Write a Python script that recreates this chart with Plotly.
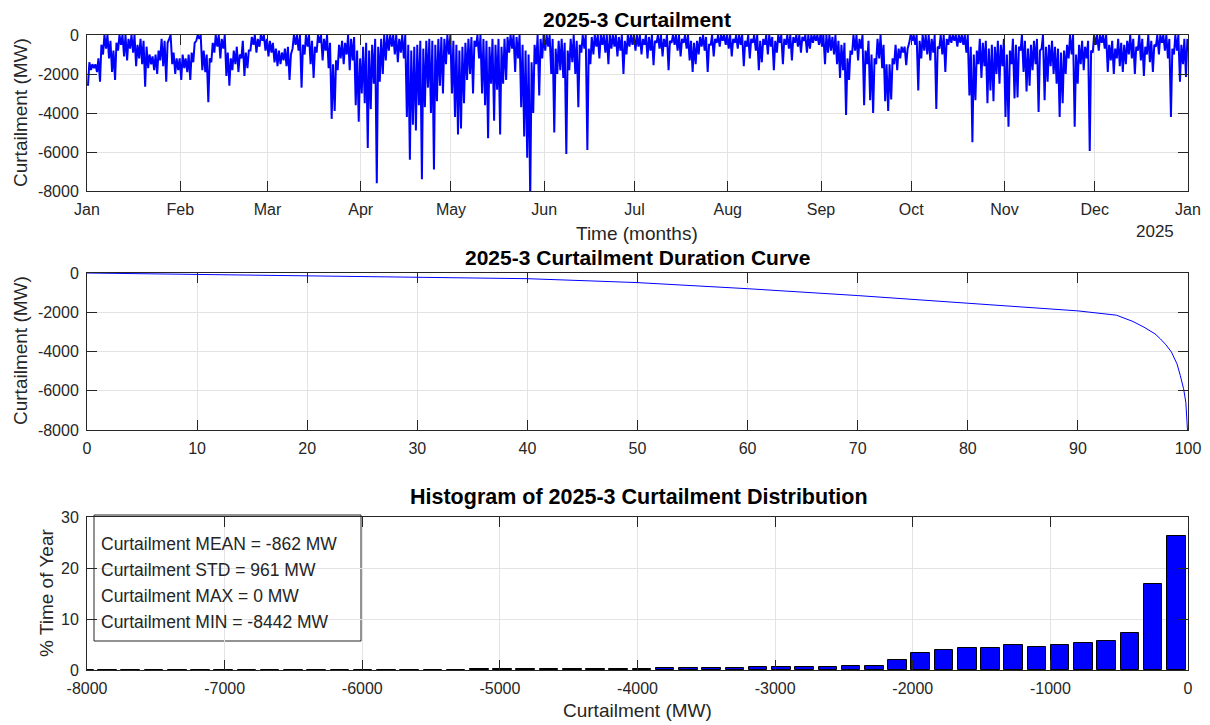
import pandas as pd
import plotly.graph_objects as go

# ---------------- data: daily lows / highs of hourly curtailment (MW) -------------
jan_low = [-2600, -1800, -1700, -1900, -2400, -1000, -700, -1200, -1900, -2300, -800, -500, -1100, -1300, -700,
           -900, -1600, -1200, -1500, -2650, -1700, -1500, -1800, -2000, -1300, -1600, -2400, -200, -1500, -2000, -1800]
jan_high = [-1400, -1500, -1500, -1200, -500, 0, 0, -300, -800, -400, 0, 0, 0, -200, 0,
            0, -500, -200, -300, -600, -1000, -1100, -1000, -800, -200, -300, -400, 0, -900, -1200, -1200]
feb_low = [-2300, -1700, -1900, -2300, -1400, -300, -200, -1800, -1900, -3450, -1400, -900, -600, -1200, -700,
           -2100, -2600, -1800, -1500, -1900, -1200, -2100, -1700, -800, -500, -900, -600, -300, -800]
feb_high = [-1000, -1200, -1000, -900, -400, 0, 0, -800, -1000, -1200, -400, 0, 0, -200, 0,
            -900, -1200, -800, -600, -1000, -300, -900, -800, -100, 0, -200, 0, 0, -200]
mar_low = [-1100, -900, -1400, -1600, -1500, -1300, -1600, -2300, -700, -500, -800, -2700, -1000, -600, -1500,
           -2200, -900, -400, -1300, -800, -1700, -4300, -3900, -1800, -1200, -1500, -1000, -1800, -1300, -3600, -4450]
mar_high = [-300, -400, -700, -800, -900, -700, -600, -1000, 0, 0, 0, -500, 0, 0, -300,
            -600, 0, 0, -200, 0, -400, -1500, -1300, -500, -300, -400, 0, -200, -100, -800, -1200]
apr_low = [-3000, -3500, -5800, -3800, -2500, -7600, -2400, -2000, -1300, -800, -600, -1000, -1400, -900, -1200,
           -4200, -6400, -4600, -4900, -3600, -7400, -3700, -2700, -4000, -6900, -3400, -2600, -3000, -1500, -1000]
apr_high = [-600, -400, -800, -500, -200, -600, -200, 0, 0, 0, 0, 0, -200, 0, 0,
            -500, -800, -600, -500, -300, -700, -300, -200, -300, -500, -200, -100, -200, 0, 0]
may_low = [-3000, -4200, -5100, -4800, -3500, -2300, -2000, -3000, -600, -1200, -3000, -3600, -5300, -2500, -4400,
           -2800, -5100, -2500, -2300, -900, -700, -1900, -1200, -3700, -5200, -6300, -8442, -4000, -1500, -3100, -1200]
may_high = [-300, -500, -800, -600, -400, -200, -100, -300, 0, 0, -200, -300, -600, -200, -500,
            -200, -600, -200, -100, 0, 0, -100, 0, -500, -800, -1000, -1400, -500, 0, -200, 0]
jun_low = [-800, -600, -2000, -5000, -2000, -1800, -2200, -6100, -1800, -1400, -2000, -3700, -900, -700, -5900,
           -1500, -1000, -600, -1200, -500, -900, -1500, -700, -600, -1100, -800, -2000, -1000, -600, -500]
jun_high = [0, 0, -200, -700, -300, -200, -400, -800, -200, 0, -300, -500, 0, 0, -700,
            -100, 0, 0, 0, 0, 0, 0, 0, 0, -100, 0, -300, 0, 0, 0]
jul_low = [-800, -600, -1000, -500, -1200, -800, -1550, -400, -700, -1100, -600, -1800, -400, -500, -800,
           -1100, -400, -700, -1300, -1900, -1500, -1000, -600, -800, -1900, -500, -1100, -400, -600, -300, -500]
jul_high = [0, 0, -200, 0, -100, 0, -300, 0, 0, -200, 0, -300, 0, 0, 0,
            -200, 0, 0, -300, -400, -300, -100, 0, -100, -500, 0, -200, 0, 0, 0, 0]
aug_low = [-700, -1100, -400, -700, -500, -1600, -600, -1200, -400, -800, -1800, -1400, -500, -1000, -600,
           -1800, -900, -400, -1500, -500, -700, -1300, -400, -600, -900, -300, -900, -700, -400, -300, -500]
aug_high = [0, -200, 0, 0, 0, -300, 0, -200, 0, 0, -300, -200, 0, 0, -100,
            -300, 0, 0, -200, 0, 0, -100, 0, 0, -100, 0, 0, 0, 0, 0, 0]
sep_low = [-600, -1500, -900, -800, -1000, -1500, -2200, -1800, -4100, -2300, -1000, -800, -1300, -700, -3600,
           -1500, -3350, -4000, -1500, -1200, -1700, -3400, -3900, -3300, -1500, -1800, -1200, -900, -1550, -400]
sep_high = [0, 0, 0, -100, 0, -300, -500, -400, -1200, -800, 0, 0, -200, 0, -800,
            -300, -1000, -1200, -200, 0, -500, -1500, -1500, -1200, -500, -700, -600, -600, -700, 0]
oct_low = [-300, -500, -2850, -1200, -800, -1000, -1300, -900, -3800, -700, -1000, -1900, -500, -400, -300,
           -600, -400, -500, -900, -3100, -5500, -3350, -1500, -2200, -1600, -3500, -2850, -3400, -2000, -2500, -1600]
oct_high = [0, 0, -300, 0, 0, 0, -200, 0, -600, 0, 0, -200, 0, 0, 0,
            0, 0, 0, 0, -600, -1000, -800, -200, -400, -300, -700, -500, -600, -300, -500, -200]
nov_low = [-4200, -4700, -1500, -3250, -3200, -800, -1900, -2900, -2600, -1800, -1500, -3950, -700, -3350, -2400,
           -1600, -2000, -2500, -4200, -3500, -2000, -1200, -1000, -4700, -2500, -1500, -1800, -1200, -5950, -900]
nov_high = [-1000, -800, -200, -500, -600, 0, -300, -700, -500, -300, -200, -800, 0, -600, -500,
            -300, -600, -700, -900, -800, -500, 0, 0, -1000, -500, -300, -600, -300, -800, 0]
dec_low = [-500, -800, -400, -700, -1900, -1300, -2000, -1200, -1600, -1900, -1500, -1000, -1200, -2000, -800,
           -1300, -2100, -1000, -1400, -1900, -600, -1000, -400, -800, -1200, -4200, -1000, -800, -2400, -1500, -2150]
dec_high = [0, 0, 0, 0, -500, -300, -700, -200, -400, -500, -300, 0, -200, -600, 0,
            -200, -600, 0, -300, -500, 0, 0, 0, 0, -200, -700, 0, 0, -500, -200, -200]

month_lows = [jan_low, feb_low, mar_low, apr_low, may_low, jun_low,
              jul_low, aug_low, sep_low, oct_low, nov_low, dec_low]
month_highs = [jan_high, feb_high, mar_high, apr_high, may_high, jun_high,
               jul_high, aug_high, sep_high, oct_high, nov_high, dec_high]
month_labels = ["Jan", "Feb", "Mar", "Apr", "May", "Jun", "Jul", "Aug", "Sep", "Oct", "Nov", "Dec", "Jan"]

# duration curve (percent of year, MW)
dur_pct = [0, 10, 20, 30, 40, 46.6, 50, 60, 70, 80, 90, 93.5, 95, 96, 97, 97.5, 98, 98.5, 99, 99.3, 99.6, 99.8, 99.95, 100]
dur_val = [0, -70, -135, -200, -290, -420, -490, -800, -1150, -1540, -1930, -2150, -2470, -2760, -3100, -3360,
           -3660, -4030, -4630, -5220, -5900, -6580, -7500, -8442]

# histogram: 50 bins from MIN to MAX, % time of year
hist_min, hist_max, hist_nbins = -8442, 0, 50
hist_pct = [0.01, 0.0, 0.01, 0.01, 0.01, 0.01, 0.01, 0.02, 0.02, 0.02,
            0.03, 0.03, 0.04, 0.05, 0.05, 0.06, 0.07, 0.08, 0.09, 0.10,
            0.12, 0.13, 0.15, 0.17, 0.20, 0.22, 0.25, 0.30, 0.32, 0.38,
            0.45, 0.50, 0.50, 0.58, 0.58, 0.70, 0.77, 2.04, 3.32, 3.96,
            4.41, 4.22, 4.92, 4.54, 4.86, 5.37, 5.75, 7.35, 16.9, 26.3]
stats_lines = ["Curtailment MEAN = -862 MW", "Curtailment STD = 961 MW",
               "Curtailment MAX = 0 MW", "Curtailment MIN = -8442 MW"]

# ---------------- build series ----------------
times, vals = [], []
for m, (lows, highs) in enumerate(zip(month_lows, month_highs), start=1):
    start = pd.Timestamp(2024, m, 1)
    for i, (lo, hi) in enumerate(zip(lows, highs)):
        times.append(start + pd.Timedelta(days=i, hours=8))
        vals.append(lo)
        times.append(start + pd.Timedelta(days=i, hours=19))
        vals.append(hi)

bw = (hist_max - hist_min) / hist_nbins
centers = [hist_min + bw * (k + 0.5) for k in range(hist_nbins)]

W, H = 1210, 725
def px(x):
    return x / W
def py(y):
    return 1 - y / H

FONT = "Liberation Sans, Arial, sans-serif"
TXT = "#262626"
BLUE = "#0000ff"

fig = go.Figure()
fig.add_trace(go.Scatter(x=times, y=vals, mode="lines", line=dict(color=BLUE, width=2),
                         xaxis="x", yaxis="y", showlegend=False))
fig.add_trace(go.Scatter(x=dur_pct, y=dur_val, mode="lines", line=dict(color=BLUE, width=1),
                         xaxis="x2", yaxis="y2", showlegend=False))
fig.add_trace(go.Bar(x=centers, y=hist_pct, width=bw * 0.8, marker=dict(color=BLUE, line=dict(color="black", width=1)),
                     xaxis="x3", yaxis="y3", showlegend=False))

base = dict(showline=True, linecolor=TXT, linewidth=1, mirror="ticks", ticks="inside", ticklen=10,
            tickcolor=TXT, showgrid=True, gridcolor="#e3e3e3", gridwidth=1, zeroline=False, automargin=False,
            tickfont=dict(family=FONT, size=16, color=TXT))

xdom = [px(87), px(1188)]
dom1 = [py(191), py(35)]
dom2 = [py(430), py(273)]
dom3 = [py(670), py(517)]

month_starts = [pd.Timestamp(2024, m, 1) for m in range(1, 13)] + [pd.Timestamp(2025, 1, 1)]
ytv = list(range(-8000, 1, 2000))
ytt = [str(v) for v in ytv]

fig.update_layout(
    width=W, height=H, margin=dict(l=0, r=0, t=0, b=0, pad=0), autosize=False,
    paper_bgcolor="white", plot_bgcolor="white", showlegend=False, bargap=0,
    xaxis=dict(base, domain=xdom, anchor="y", type="date",
               range=[pd.Timestamp(2024, 1, 1), pd.Timestamp(2025, 1, 1)],
               tickvals=month_starts, ticktext=month_labels, ticklabelstandoff=4),
    yaxis=dict(base, domain=dom1, anchor="x", range=[-8000, 0], tickvals=ytv, ticktext=ytt, ticklabelstandoff=4),
    xaxis2=dict(base, domain=xdom, anchor="y2", range=[0, 100], tickvals=list(range(0, 101, 10)),
                ticktext=[str(v) for v in range(0, 101, 10)], ticklabelstandoff=4),
    yaxis2=dict(base, domain=dom2, anchor="x2", range=[-8000, 0], tickvals=ytv, ticktext=ytt, ticklabelstandoff=4),
    xaxis3=dict(base, domain=xdom, anchor="y3", range=[-8000, 0], tickvals=list(range(-8000, 1, 1000)),
                ticktext=[str(v) for v in range(-8000, 1, 1000)], ticklabelstandoff=4),
    yaxis3=dict(base, domain=dom3, anchor="x3", range=[0, 30], tickvals=[0, 10, 20, 30],
                ticktext=["0", "10", "20", "30"], ticklabelstandoff=4),
)

ann = []
def text(x, y, s, size, bold=False, angle=0, xanchor="center", color=TXT):
    ann.append(dict(xref="paper", yref="paper", x=px(x), y=py(y), text=("<b>%s</b>" % s) if bold else s,
                    showarrow=False, textangle=angle, xanchor=xanchor, yanchor="middle",
                    font=dict(family=FONT, size=size, color=color)))

text(637, 19, "2025-3 Curtailment", 21, bold=True, color="black")
text(637, 258, "2025-3 Curtailment Duration Curve", 21, bold=True, color="black")
text(639, 497, "Histogram of 2025-3 Curtailment Distribution", 21.5, bold=True, color="black")
text(637, 233, "Time (months)", 19)
text(1155, 231, "2025", 17)
text(637, 710, "Curtailment (MW)", 19)
text(20, 113, "Curtailment (MW)", 19, angle=-90)
text(20, 351, "Curtailment (MW)", 19, angle=-90)
text(46, 593, "% Time of Year", 19, angle=-90)
for i, s in enumerate(stats_lines):
    text(99, 544 + i * 26, s, 17.5, xanchor="left")
fig.update_layout(annotations=ann)
fig.add_shape(type="rect", xref="paper", yref="paper", x0=px(94), x1=px(361), y0=py(641), y1=py(515),
              line=dict(color=TXT, width=1), fillcolor="white", layer="below")

# remove the default 8px page margin so the 1210x725 figure fills the window exactly
fig.write_html("out.html", config={"displayModeBar": False},
               post_script="document.body.style.margin='0';document.body.style.overflow='hidden';")
